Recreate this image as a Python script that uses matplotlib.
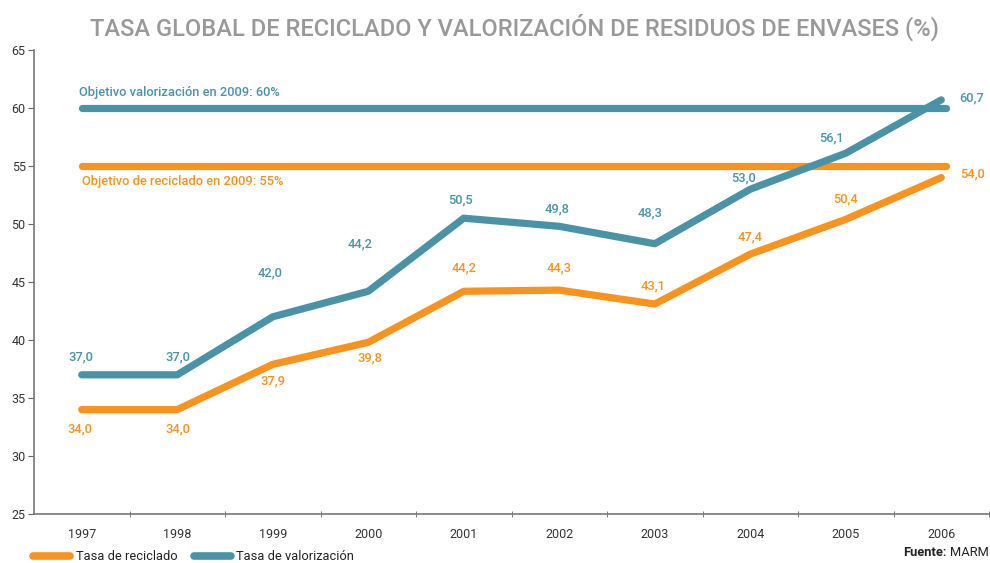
import numpy as np
import matplotlib
matplotlib.use('Agg')
import matplotlib.pyplot as plt
from matplotlib.lines import Line2D

plt.rcParams['font.family'] = ['Roboto', 'DejaVu Sans']

years = ['1997', '1998', '1999', '2000', '2001', '2002', '2003', '2004', '2005', '2006']
reciclado = [34.0, 34.0, 37.9, 39.8, 44.2, 44.3, 43.1, 47.4, 50.4, 54.0]
valorizacion = [37.0, 37.0, 42.0, 44.2, 50.5, 49.8, 48.3, 53.0, 56.1, 60.7]
obj_reciclado = 55
obj_valorizacion = 60

ORANGE = '#F7931E'
TEAL = '#4A93A6'
W, H = 990, 563

# label offsets in pixels (dx, dy) relative to each point
val_off = [(-1, 18), (1, 18), (-3, 44), (-8, 47), (-3, 18), (-2, 17),
           (-5, 31), (-7, 11), (-14, 15), (30, 2)]
rec_off = [(-2, -19), (1, -19), (0, -17), (2, -16), (0, 23), (0, 22),
           (-2, 18), (0, 17), (0, 20), (31, 4)]

fig = plt.figure(figsize=(W / 100, H / 100), dpi=100)
ax = fig.add_axes([34 / W, (H - 514) / H, (989 - 34) / W, (514 - 50) / H])

x = np.arange(len(years))
ax.plot([0, 9.05], [obj_valorizacion] * 2, color=TEAL, lw=5.2, solid_capstyle='round', zorder=2)
ax.plot([0, 9.05], [obj_reciclado] * 2, color=ORANGE, lw=5.2, solid_capstyle='round', zorder=2)
ax.plot(x, valorizacion, color=TEAL, lw=5.2, solid_capstyle='round', solid_joinstyle='round', zorder=3)
ax.plot(x, reciclado, color=ORANGE, lw=5.2, solid_capstyle='round', solid_joinstyle='round', zorder=3)

lbl = dict(fontsize=9.3, fontweight='medium')
for i, v in enumerate(valorizacion):
    ax.annotate(f'{v:.1f}'.replace('.', ','), (x[i], v), xytext=val_off[i],
                textcoords='offset pixels', ha='center', va='center', color=TEAL, **lbl)
for i, v in enumerate(reciclado):
    ax.annotate(f'{v:.1f}'.replace('.', ','), (x[i], v), xytext=rec_off[i],
                textcoords='offset pixels', ha='center', va='center', color=ORANGE, **lbl)

ax.text(-0.03, obj_valorizacion + 1.3, 'Objetivo valorización en 2009: 60%',
        color=TEAL, ha='left', va='center', **lbl)
ax.text(0.0, obj_reciclado - 1.3, 'Objetivo de reciclado en 2009: 55%',
        color=ORANGE, ha='left', va='center', **lbl)

ax.set_xlim(-0.5, 9.5)
ax.set_ylim(25, 65)
ax.set_yticks(np.arange(25, 66, 5))
ax.set_xticks(x)
ax.set_xticklabels(years)
ax.set_xticks(np.arange(0.5, 9.6, 1), minor=True)
ax.tick_params(axis='x', which='major', length=0, pad=10, labelsize=9, labelcolor='#333333')
ax.tick_params(axis='x', which='minor', length=4, direction='inout', color='#666666')
ax.tick_params(axis='y', length=4, color='#666666', labelsize=9, labelcolor='#333333', pad=2)
for s in ['top', 'right']:
    ax.spines[s].set_visible(False)
for s in ['left', 'bottom']:
    ax.spines[s].set_color('#777777')
    ax.spines[s].set_linewidth(1.2)

fig.text(515 / W, 1 - 27 / H, 'TASA GLOBAL DE RECICLADO Y VALORIZACIÓN DE RESIDUOS DE ENVASES (%)',
         ha='center', va='center', color='#999999', fontsize=17, fontweight='medium')

# legend
fig.add_artist(Line2D([33 / W, 70 / W], [1 - 556 / H] * 2, color=ORANGE, lw=5.5,
                      solid_capstyle='round'))
fig.text(76 / W, 1 - 556 / H, 'Tasa de reciclado', ha='left', va='center', fontsize=9.3, color='#222222')
fig.add_artist(Line2D([194 / W, 231 / W], [1 - 556 / H] * 2, color=TEAL, lw=5.5,
                      solid_capstyle='round'))
fig.text(236 / W, 1 - 556 / H, 'Tasa de valorización', ha='left', va='center', fontsize=9.3, color='#222222')

fig.text(989 / W, 1 - 553 / H, 'MARM', ha='right', va='center', fontsize=9.3, color='#222222')
fig.text(946 / W, 1 - 553 / H, 'Fuente:', ha='right', va='center', fontsize=9.3,
         color='#222222', fontweight='bold')

fig.savefig('out.png', dpi=100)
